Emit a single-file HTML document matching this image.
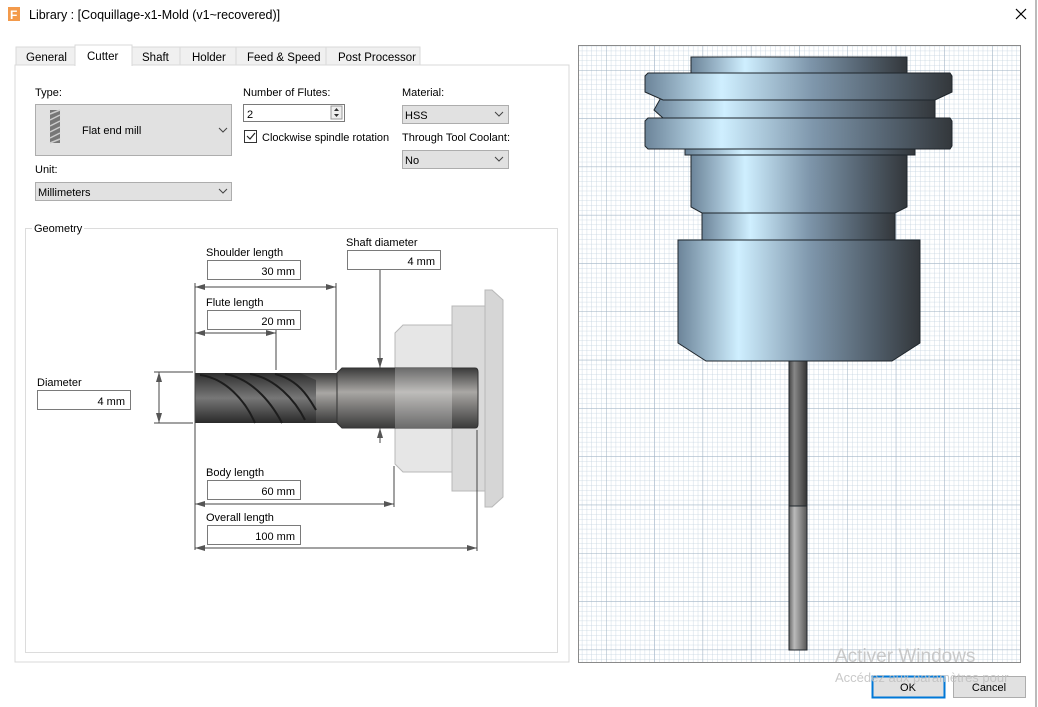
<!DOCTYPE html>
<html><head><meta charset="utf-8"><style>
html,body{margin:0;padding:0;background:#fff;}
svg{display:block;font-family:"Liberation Sans",sans-serif;}
</style></head><body>
<svg width="1038" height="707" viewBox="0 0 1038 707" xmlns="http://www.w3.org/2000/svg">
<defs>
<pattern id="minor" x="606" y="70" width="4.83" height="4.83" patternUnits="userSpaceOnUse">
<path d="M0 0H4.83M0 0V4.83" stroke="#c4d3e0" stroke-width="0.8" fill="none"/>
</pattern>
<pattern id="major" x="606" y="70" width="48.3" height="48.3" patternUnits="userSpaceOnUse">
<path d="M0 0H48.3M0 0V48.3" stroke="#9db0c2" stroke-width="1" fill="none"/>
</pattern>
<linearGradient id="metal" x1="0" x2="1" y1="0" y2="0">
<stop offset="0" stop-color="#6c8499"/><stop offset="0.25" stop-color="#cfefff"/>
<stop offset="0.55" stop-color="#7e96ab"/><stop offset="0.8" stop-color="#53616e"/><stop offset="1" stop-color="#33373b"/>
</linearGradient>
<linearGradient id="shank" x1="0" x2="1"><stop offset="0" stop-color="#444"/><stop offset="0.3" stop-color="#888"/><stop offset="1" stop-color="#333"/></linearGradient>
<linearGradient id="shank2" x1="0" x2="1"><stop offset="0" stop-color="#666"/><stop offset="0.3" stop-color="#bbb"/><stop offset="1" stop-color="#555"/></linearGradient>
<linearGradient id="tool" x1="0" x2="0" y1="0" y2="1"><stop offset="0" stop-color="#3a3a3a"/><stop offset="0.4" stop-color="#a9a7a4"/><stop offset="1" stop-color="#3a3a3a"/></linearGradient>
<linearGradient id="flute" x1="0" x2="0" y1="0" y2="1"><stop offset="0" stop-color="#2f2f2f"/><stop offset="0.5" stop-color="#777"/><stop offset="1" stop-color="#2a2a2a"/></linearGradient>
<marker id="ar" viewBox="0 0 10 6" refX="10" refY="3" markerWidth="10" markerHeight="6" orient="auto-start-reverse" markerUnits="userSpaceOnUse"><path d="M0 0L10 3L0 6z" fill="#555"/></marker>
</defs>

<!-- title -->
<rect x="8" y="7" width="12" height="14" fill="#f39a4b"/>
<text x="10" y="19" font-size="12" fill="#fff" font-weight="bold">F</text>
<text x="29" y="19" font-size="12.5" fill="#000">Library : [Coquillage-x1-Mold (v1~recovered)]</text>
<path d="M1016 9L1026 19M1026 9L1016 19" stroke="#000" stroke-width="1.2"/>
<line x1="1036" y1="0" x2="1036" y2="707" stroke="#777"/>

<!-- tabs -->
<rect x="15" y="65" width="554" height="597" fill="#fff" stroke="#d9d9d9"/>
<g font-size="11.5" fill="#000">
<rect x="16" y="47" width="59" height="18" fill="#f0f0f0" stroke="#d9d9d9"/><text x="26" y="61">General</text>
<rect x="132" y="47" width="48" height="18" fill="#f0f0f0" stroke="#d9d9d9"/><text x="142" y="61">Shaft</text>
<rect x="180" y="47" width="56" height="18" fill="#f0f0f0" stroke="#d9d9d9"/><text x="192" y="61">Holder</text>
<rect x="236" y="47" width="90" height="18" fill="#f0f0f0" stroke="#d9d9d9"/><text x="247" y="61">Feed &amp; Speed</text>
<rect x="326" y="47" width="94" height="18" fill="#f0f0f0" stroke="#d9d9d9"/><text x="338" y="61">Post Processor</text>
<path d="M75 66V45H132V66" fill="#fff" stroke="#d9d9d9"/><rect x="76" y="63" width="55" height="4" fill="#fff"/>
<text x="87" y="60">Cutter</text>
</g>

<!-- controls -->
<g font-size="11" fill="#000">
<text x="35" y="96">Type:</text>
<rect x="35.5" y="104.5" width="196" height="51" fill="#e1e1e1" stroke="#adadad"/>
<g transform="translate(50,110)"><rect x="0" y="0" width="10" height="33" fill="#777"/><path d="M0 4L10 0M0 10L10 5M0 16L10 11M0 22L10 17M0 28L10 23M0 33L10 29" stroke="#ccc" stroke-width="1.5"/></g>
<text x="82" y="134">Flat end mill</text>
<path d="M219 128l4 4 4-4" stroke="#444" fill="none"/>
<text x="35" y="173">Unit:</text>
<rect x="35.5" y="182.5" width="196" height="18" fill="#e1e1e1" stroke="#adadad"/>
<text x="38" y="196">Millimeters</text>
<path d="M219 189l4 4 4-4" stroke="#444" fill="none"/>

<text x="243" y="96">Number of Flutes:</text>
<rect x="243.5" y="104.5" width="101" height="17" fill="#fff" stroke="#7a7a7a"/>
<text x="247" y="118">2</text>
<rect x="331" y="106" width="11" height="13" fill="#eee" stroke="#999"/>
<path d="M334 111l2.5-3 2.5 3zM334 114l2.5 3 2.5-3z" fill="#333"/>
<rect x="244.5" y="130.5" width="12" height="12" fill="#fff" stroke="#333"/>
<path d="M247 136l3 3 5-6" stroke="#222" fill="none" stroke-width="1.2"/>
<text x="262" y="141">Clockwise spindle rotation</text>

<text x="402" y="96">Material:</text>
<rect x="402.5" y="105.5" width="106" height="18" fill="#e1e1e1" stroke="#adadad"/>
<text x="405" y="119">HSS</text><path d="M495 112l4 4 4-4" stroke="#444" fill="none"/>
<text x="402" y="141">Through Tool Coolant:</text>
<rect x="402.5" y="150.5" width="106" height="18" fill="#e1e1e1" stroke="#adadad"/>
<text x="405" y="164">No</text><path d="M495 157l4 4 4-4" stroke="#444" fill="none"/>
</g>

<!-- geometry group -->
<rect x="25.5" y="228.5" width="532" height="424" fill="none" stroke="#dcdcdc"/>
<rect x="32" y="222" width="52" height="12" fill="#fff"/>
<text x="34" y="232" font-size="11">Geometry</text>

<!-- holder ghost -->
<g fill="#e2e2e2" stroke="#b8b8b8">
<path d="M403 325H452V472H403L395 464V333Z" fill="#e6e6e6"/>
<rect x="452" y="306" width="33" height="185" fill="#dadada"/>
<path d="M485 290H492L503 300V497L492 507H485Z" fill="#d6d6d6"/>
</g>
<!-- tool -->
<rect x="195" y="373" width="142" height="50" fill="url(#tool)"/>
<path d="M195 373H300L316 380V423H195Z" fill="url(#flute)"/>
<path d="M200 375C225 378 245 400 255 423M225 374C250 378 270 400 282 423M250 374C275 378 295 400 305 420M275 374C300 380 310 400 316 410" stroke="#1d1d1d" stroke-width="2" fill="none"/>
<path d="M342 368H475Q478 368 478 372V424Q478 428 475 428H342L337 423V373Z" fill="url(#tool)" stroke="#333"/>
<rect x="395" y="368" width="57" height="60" fill="#fff" opacity="0.25"/>

<!-- dimension lines -->
<g stroke="#444" stroke-width="1" fill="none">
<line x1="195" y1="283" x2="195" y2="550"/>
<line x1="195" y1="287" x2="336" y2="287" marker-start="url(#ar)" marker-end="url(#ar)"/>
<line x1="336" y1="283" x2="336" y2="370"/>
<line x1="195" y1="333" x2="276" y2="333" marker-start="url(#ar)" marker-end="url(#ar)"/>
<line x1="276" y1="330" x2="276" y2="370"/>
<line x1="195" y1="504" x2="394" y2="504" marker-start="url(#ar)" marker-end="url(#ar)"/>
<line x1="394" y1="466" x2="394" y2="507"/>
<line x1="195" y1="548" x2="477" y2="548" marker-start="url(#ar)" marker-end="url(#ar)"/>
<line x1="477" y1="430" x2="477" y2="551"/>
<line x1="154" y1="372" x2="193" y2="372"/><line x1="154" y1="423" x2="193" y2="423"/>
<line x1="159" y1="372" x2="159" y2="423" marker-start="url(#ar)" marker-end="url(#ar)"/>
<line x1="380" y1="269" x2="380" y2="368" marker-end="url(#ar)"/>
<line x1="380" y1="443" x2="380" y2="428" marker-end="url(#ar)"/>
</g>
<g font-size="11" fill="#000">
<text x="206" y="256">Shoulder length</text>
<rect x="207.5" y="260.5" width="93" height="19" fill="#fff" stroke="#7a7a7a"/><text x="295" y="275" text-anchor="end">30 mm</text>
<text x="346" y="246">Shaft diameter</text>
<rect x="347.5" y="250.5" width="93" height="19" fill="#fff" stroke="#7a7a7a"/><text x="435" y="265" text-anchor="end">4 mm</text>
<text x="206" y="306">Flute length</text>
<rect x="207.5" y="310.5" width="93" height="19" fill="#fff" stroke="#7a7a7a"/><text x="295" y="325" text-anchor="end">20 mm</text>
<text x="37" y="386">Diameter</text>
<rect x="37.5" y="390.5" width="93" height="19" fill="#fff" stroke="#7a7a7a"/><text x="125" y="405" text-anchor="end">4 mm</text>
<text x="206" y="476">Body length</text>
<rect x="207.5" y="480.5" width="93" height="19" fill="#fff" stroke="#7a7a7a"/><text x="295" y="495" text-anchor="end">60 mm</text>
<text x="206" y="521">Overall length</text>
<rect x="207.5" y="525.5" width="93" height="19" fill="#fff" stroke="#7a7a7a"/><text x="295" y="540" text-anchor="end">100 mm</text>
</g>

<!-- right viewport -->
<rect x="578" y="45" width="442" height="617" fill="#fff"/>
<rect x="578" y="45" width="442" height="617" fill="url(#minor)"/>
<rect x="578" y="45" width="442" height="617" fill="url(#major)"/>
<rect x="578.5" y="45.5" width="442" height="617" fill="none" stroke="#8a8a8a"/>

<g stroke="#1f262c" stroke-width="1">
<rect x="789" y="358" width="18" height="148" fill="url(#shank)"/>
<rect x="789" y="506" width="18" height="144" fill="url(#shank2)"/>
<path d="M678 240H920V343L892 361H706L678 343Z" fill="url(#metal)"/>
<rect x="702" y="213" width="193" height="27" fill="url(#metal)"/>
<path d="M691 155H907V207L895 213H702L691 207Z" fill="url(#metal)"/>
<rect x="685" y="148" width="230" height="7" fill="url(#metal)"/>
<path d="M648 118H950L952 121V146L950 149H648L645 146V121Z" fill="url(#metal)"/>
<path d="M663 94H935V118H663L654 110Z" fill="url(#metal)"/>
<path d="M648 73H950L952 76V92L935 100H663L645 92V76Z" fill="url(#metal)"/>
<rect x="691" y="57" width="216" height="16" fill="url(#metal)"/>
</g>

<!-- watermark & buttons -->
<text x="835" y="662" font-size="19" fill="#c8c8c8">Activer Windows</text>
<rect x="872.5" y="676.5" width="72" height="21" fill="#e1e1e1" stroke="#0078d7" stroke-width="2"/>
<rect x="953.5" y="676.5" width="72" height="21" fill="#e1e1e1" stroke="#adadad"/>
<text x="908" y="691" font-size="11" text-anchor="middle">OK</text>
<text x="989" y="691" font-size="11" text-anchor="middle">Cancel</text>
<text x="835" y="682" font-size="13" fill="#c0c0c0" opacity="0.85">Accédez aux paramètres pour</text>
</svg>
</body></html>
